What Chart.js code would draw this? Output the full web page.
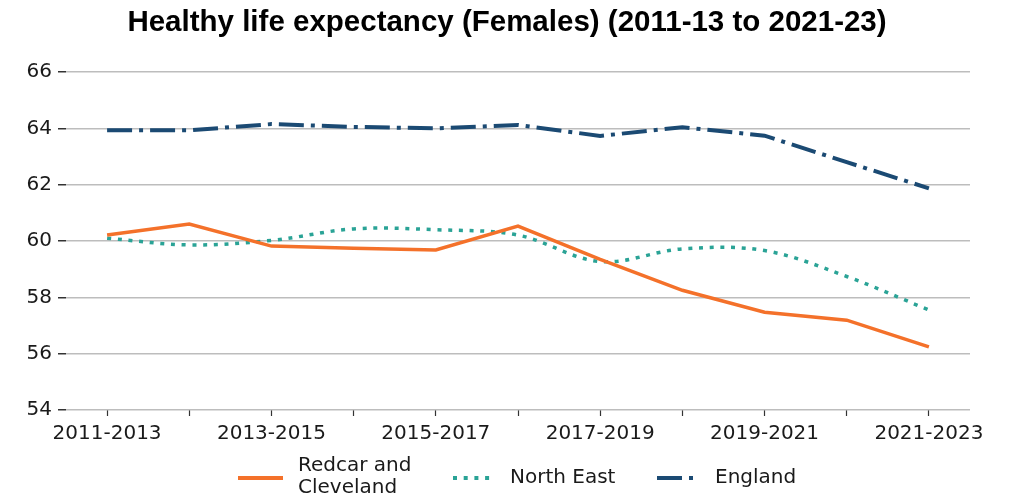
<!DOCTYPE html>
<html>
<head>
<meta charset="utf-8">
<script src="https://cdn.jsdelivr.net/npm/chart.js@4/dist/chart.umd.min.js"></script>
<style>
  html, body { margin: 0; padding: 0; background: #fff; }
  #wrap { width: 1018px; height: 498px; position: relative; }
</style>
</head>
<body>
<div id="wrap"><canvas id="c" width="1018" height="498"></canvas></div>
<script>
const titleText = 'Healthy life expectancy (Females) (2011-13 to 2021-23)';
const categories = ['2011-2013','2012-2014','2013-2015','2014-2016','2015-2017','2016-2018','2017-2019','2018-2020','2019-2021','2020-2022','2021-2023'];
const redcarValues = [60.21, 60.60, 59.82, 59.74, 59.68, 60.53, 59.35, 58.25, 57.47, 57.19, 56.24];
const northEastValues = [60.10, 59.86, 60.02, 60.43, 60.40, 60.21, 59.27, 59.72, 59.66, 58.74, 57.55];
const englandValues = [63.93, 63.93, 64.15, 64.05, 64.00, 64.12, 63.73, 64.04, 63.74, 62.80, 61.87];
const seriesNames = [['Redcar and', 'Cleveland'], ['North East'], ['England']];
const yTicks = [54, 56, 58, 60, 62, 64, 66];

const colRedcar = '#F4712A';
const colNE = '#2AA396';
const colEng = '#1B4A73';
const dashNE = [4, 6.7];
const dashEng = [25, 7, 4, 7];

const legendPlugin = {
  id: 'customLegend',
  afterDraw(chart) {
    const ctx = chart.ctx;
    ctx.save();
    // title
    ctx.fillStyle = '#000';
    ctx.font = 'bold 29.5px "Liberation Sans", Arial, sans-serif';
    ctx.textAlign = 'center';
    ctx.textBaseline = 'middle';
    ctx.fillText(titleText, 507, 23);
    // legend
    const items = [
      { color: colRedcar, dash: [], x0: 238, x1: 283, tx: 298 },
      { color: colNE, dash: dashNE, x0: 453, x1: 490, tx: 510 },
      { color: colEng, dash: dashEng, x0: 657, x1: 694, tx: 715 }
    ];
    const ly = 478;
    ctx.font = '20px "DejaVu Sans", sans-serif';
    ctx.textAlign = 'left';
    items.forEach((it, i) => {
      ctx.beginPath();
      ctx.setLineDash(it.dash);
      ctx.lineWidth = 4;
      ctx.lineCap = 'butt';
      ctx.strokeStyle = it.color;
      ctx.moveTo(it.x0, ly);
      ctx.lineTo(it.x1, ly);
      ctx.stroke();
      ctx.setLineDash([]);
      ctx.fillStyle = '#1a1a1a';
      const lines = seriesNames[i];
      if (lines.length === 1) {
        ctx.fillText(lines[0], it.tx, ly);
      } else {
        ctx.fillText(lines[0], it.tx, ly - 12);
        ctx.fillText(lines[1], it.tx, ly + 10);
      }
    });
    ctx.restore();
  }
};

new Chart(document.getElementById('c'), {
  type: 'line',
  data: {
    labels: categories,
    datasets: [
      { label: 'Redcar and Cleveland', data: redcarValues, borderColor: colRedcar, borderWidth: 3.5, pointRadius: 0, fill: false, tension: 0 },
      { label: 'North East', data: northEastValues, borderColor: colNE, borderWidth: 3.5, borderDash: dashNE, pointRadius: 0, fill: false, tension: 0.35 },
      { label: 'England', data: englandValues, borderColor: colEng, borderWidth: 4, borderDash: dashEng, pointRadius: 0, fill: false, tension: 0 }
    ]
  },
  options: {
    responsive: false,
    animation: false,
    devicePixelRatio: 1,
    layout: { padding: { left: 0, right: 48, top: 72, bottom: 0 } },
    plugins: {
      legend: { display: false },
      title: { display: false },
      tooltip: { enabled: false }
    },
    scales: {
      x: {
        type: 'category',
        offset: true,
        border: { display: false },
        grid: { drawOnChartArea: false, drawTicks: true, tickLength: 6, tickColor: '#333', tickWidth: 1.2, offset: false },
        ticks: {
          autoSkip: false,
          maxRotation: 0,
          padding: 6,
          color: '#1a1a1a',
          font: { family: '"DejaVu Sans", sans-serif', size: 20 },
          callback: function(v, i) { return i % 2 === 0 ? categories[i] : ''; }
        },
        afterFit(scale) { scale.height = 88; }
      },
      y: {
        min: 54,
        max: 66,
        border: { display: false },
        grid: { color: '#bdbdbd', lineWidth: 1.5, tickLength: 8, tickColor: '#333', tickWidth: 1.5 },
        afterBuildTicks(scale) { scale.ticks = yTicks.map(v => ({ value: v })); },
        ticks: {
          padding: 6,
          color: '#1a1a1a',
          font: { family: '"DejaVu Sans", sans-serif', size: 20 }
        },
        afterFit(scale) { scale.width = 66; }
      }
    }
  },
  plugins: [legendPlugin]
});
</script>
</body>
</html>
